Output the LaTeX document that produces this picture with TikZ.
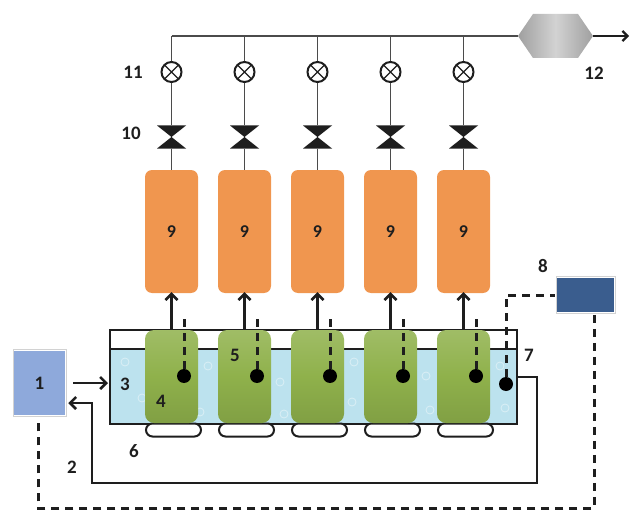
\documentclass[tikz,border=0pt]{standalone}
\usepackage{fontspec}
\setmainfont{Carlito}
\usetikzlibrary{arrows.meta}
\definecolor{tankorange}{HTML}{F0964F}
\definecolor{cellgreen}{HTML}{8FB14B}
\definecolor{water}{HTML}{BCE2EE}
\definecolor{feedblue}{HTML}{8EA9DB}
\definecolor{ctlblue}{HTML}{3A5D8E}
\definecolor{ink}{HTML}{1E1E1E}
\tikzset{
  lab/.style={font=\fontsize{19}{21}\selectfont\bfseries, text=ink},
  tankbox/.style={rectangle, rounded corners=7pt, minimum width=53pt, minimum height=123pt,
    inner sep=0pt, fill=tankorange, font=\fontsize{18}{20}\selectfont\bfseries, text=ink},
  cellbox/.style={rectangle, rounded corners=9pt, minimum width=53pt, minimum height=93pt,
    inner sep=0pt, top color=cellgreen!85!white, bottom color=cellgreen!90!black, middle color=cellgreen},
  foot/.style={rectangle, rounded corners=6.5pt, minimum width=55pt, minimum height=13pt,
    inner sep=0pt, draw=ink, line width=2pt, fill=white},
  meter/.style={circle, minimum size=20pt, inner sep=0pt, draw=ink, line width=2pt, fill=white,
    path picture={\draw[ink, line width=1.1pt]
      (path picture bounding box.north west) -- (path picture bounding box.south east)
      (path picture bounding box.north east) -- (path picture bounding box.south west);}},
  valve/.style={rectangle, minimum width=29pt, minimum height=23pt, inner sep=0pt,
    path picture={\fill[ink]
      (path picture bounding box.north west) -- (path picture bounding box.north east)
      -- (path picture bounding box.south west) -- (path picture bounding box.south east) -- cycle;}},
  probe/.style={circle, fill=black, minimum size=14pt, inner sep=0pt},
  pipe/.style={draw=ink!80, line width=1.4pt},
  flow/.style={draw=ink, line width=2.6pt, -{Straight Barb[length=6pt,width=12pt,line width=2.6pt]}},
  wire/.style={draw=ink, line width=3pt, dash pattern=on 8pt off 6pt},
}
\begin{document}
\begin{tikzpicture}[x=1pt,y=-1pt]
\useasboundingbox (0,0) rectangle (630,511);

% separator / outlet (12)
\node[rectangle, minimum width=75pt, minimum height=44pt, inner sep=0pt,
  path picture={\shade[left color=gray!75, right color=gray!75, middle color=gray!35]
    (path picture bounding box.west) -- ([xshift=15pt]path picture bounding box.north west)
    -- ([xshift=-15pt]path picture bounding box.north east) -- (path picture bounding box.east)
    -- ([xshift=-15pt]path picture bounding box.south east) -- ([xshift=15pt]path picture bounding box.south west) -- cycle;}]
  (sep) at (555.5,36) {};
\coordinate (out) at (629,36);
\draw[draw=ink, line width=2.4pt, -{Straight Barb[length=5pt,width=10pt,line width=2.2pt]}] (sep.east) -- (out);

% water bath (3)
\fill[water] (110,349) rectangle (517,423);
\foreach \bx/\by in {125/362,142/398,200/412,208/366,280/382,284/414,354/362,352/402,426/376,430/410,500/366,505/408}
  \draw[white, line width=0.8pt, opacity=0.45] (\bx,\by) circle (4pt);
\node[rectangle, draw=ink, line width=2pt, minimum width=407pt, minimum height=94pt, inner sep=0pt] (bath) at (313.5,376.5) {};
\draw[ink, line width=2pt] (bath.west |- 0,349) -- (bath.east |- 0,349);

% five reactor columns
\foreach \i/\l in {1/145,2/218,3/291,4/364,5/437} {
  \pgfmathsetmacro{\cx}{\l+26.5}
  \node[meter] (m\i) at (\cx,72) {};
  \node[valve] (v\i) at (\cx,137) {};
  \node[tankbox] (t\i) at (\cx,231.5) {9};
  \node[foot] (f\i) at (\cx+2,430) {};
  \node[cellbox] (c\i) at (\cx,376.5) {};
  \node[probe] (d\i) at (\l+39,376) {};
  \draw[pipe] (m\i.north) -- (m\i.north |- sep.west);
  \draw[pipe] (m\i) -- (v\i);
  \draw[pipe] (v\i) -- (t\i.north);
  \draw[flow] (c\i.north) -- ([yshift=1pt]t\i.south);
  \draw[wire] (d\i.north) -- (d\i.north |- 0,316);
}
\draw[pipe] (m1.north |- sep.west) -- (sep.west);

% feed tank (1) and controller (8)
\node[rectangle, minimum width=53pt, minimum height=67pt, inner sep=0pt, fill=feedblue,
  draw=white, line width=2.5pt] (feed) at (39.5,383) {\fontsize{19}{21}\selectfont\bfseries\color{ink}1};
\draw[gray!35, line width=0.6pt] (13,349.5) rectangle (66,416.5);
\node[rectangle, minimum width=59pt, minimum height=37pt, inner sep=0pt, fill=ctlblue,
  draw=white, line width=2.5pt] (ctl) at (585.5,295) {};
\draw[gray!35, line width=0.6pt] (556,276.5) rectangle (615,313.5);

% temperature probe (7)
\node[probe] (d7) at (506,384) {};
\draw[wire] (d7.north) |- (ctl.west);
\draw[wire] (ctl.south -| 594,0) -- (594,508) -| (feed.south -| 38,0);

% feed and return lines
\draw[flow] ([xshift=6pt]feed.east |- 0,383) -- ([xshift=-1pt]bath.west |- 0,383);
\coordinate (r1) at (537,377);
\coordinate (r2) at (537,483);
\coordinate (r3) at (92,483);
\coordinate (r4) at (92,403);
\draw[flow] (bath.east |- r1) -- (r1) -- (r2) -- (r3) -- (r4) -- ([xshift=1pt]feed.east |- r4);

% labels
\node[lab] at (72,467) {2};
\node[lab] at (125,384) {3};
\node[lab] at (161,401) {4};
\node[lab] at (235,355) {5};
\node[lab] at (134,451) {6};
\node[lab] at (529,355) {7};
\node[lab] at (543,266) {8};
\node[lab] at (131,133) {10};
\node[lab] at (133,72) {11};
\node[lab] at (594,73) {12};
\end{tikzpicture}
\end{document}
